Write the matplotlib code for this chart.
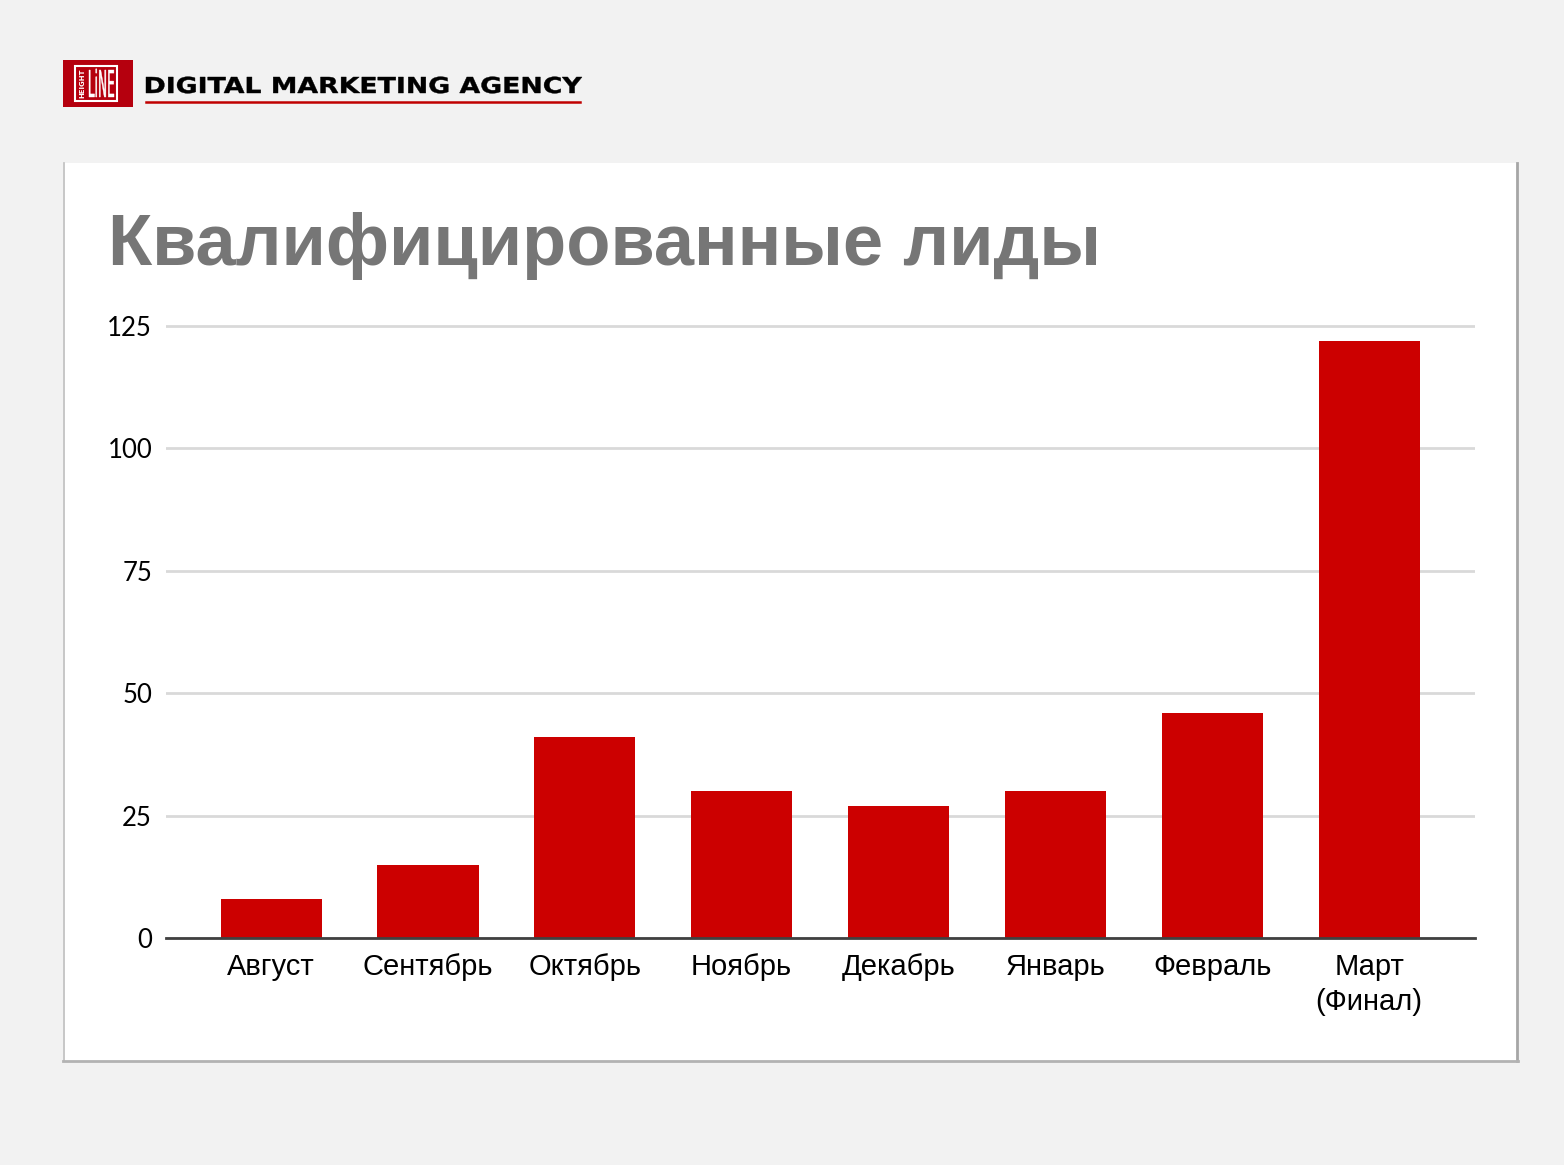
import matplotlib.pyplot as plt
from matplotlib.patches import Rectangle, PathPatch
from matplotlib.textpath import TextPath
from matplotlib.font_manager import FontProperties
from matplotlib.transforms import Affine2D
from matplotlib.lines import Line2D

# данные графика
months = ["Август", "Сентябрь", "Октябрь", "Ноябрь", "Декабрь",
          "Январь", "Февраль", "Март\n(Финал)"]
leads = [8, 15, 41, 30, 27, 30, 46, 122]
yticks = [0, 25, 50, 75, 100, 125]

W, H = 1564, 1165
fig = plt.figure(figsize=(W / 100, H / 100), dpi=100)
fig.patch.set_facecolor("#f2f2f2")


def text_box(s, x0, x1, base, cap, fp, color):
    # текст, растянутый в заданную ширину (в пикселях)
    tp = TextPath((0, 0), s, size=20, prop=fp)
    bb = tp.get_extents()
    capref = TextPath((0, 0), "H", size=20, prop=fp).get_extents().height
    tr = Affine2D().translate(-bb.x0, 0).scale((x1 - x0) / bb.width,
                                               cap / capref)
    tr = tr.translate(x0, H - base)
    p = PathPatch(tr.transform_path(tp), facecolor=color, edgecolor=color,
                  lw=0.3, transform=None, zorder=2)
    fig.patches.append(p)


# белая карточка под графиком
card = Rectangle((63 / W, 1 - 1061 / H), 1454 / W, 898 / H,
                 transform=fig.transFigure, facecolor="white",
                 edgecolor="none", zorder=-10)
fig.patches.append(card)
fig.lines.append(Line2D([63.5 / W, 63.5 / W], [1 - 163 / H, 1 - 1061 / H],
                        transform=fig.transFigure, color="#bdbdbd", lw=1.2))
fig.lines.append(Line2D([1517 / W, 1517 / W], [1 - 163 / H, 1 - 1061 / H],
                        transform=fig.transFigure, color="#a6a6a6", lw=2))
fig.lines.append(Line2D([63 / W, 1518 / W], [1 - 1060.5 / H, 1 - 1060.5 / H],
                        transform=fig.transFigure, color="#b3b3b3", lw=2))

# логотип
logo = Rectangle((63 / W, 1 - 107 / H), 70 / W, 47 / H,
                 transform=fig.transFigure, facecolor="#b5000e",
                 edgecolor="none", zorder=1)
fig.patches.append(logo)
inner = Rectangle((75 / W, 1 - 101 / H), 42 / W, 35 / H,
                  transform=fig.transFigure, facecolor="none",
                  edgecolor="white", lw=1.5, zorder=2)
fig.patches.append(inner)
fig.text(82 / W, 1 - 83.5 / H, "HEIGHT", color="white", fontsize=5,
         rotation=90, ha="center", va="center", family="DejaVu Sans",
         fontweight="bold")
text_box("LiNE", 89, 114, 97, 27, FontProperties(family="DejaVu Sans"),
         "white")

# подпись агентства
text_box("DIGITAL MARKETING AGENCY", 146, 582, 93, 16,
         FontProperties(family="DejaVu Sans", weight="bold"), "black")
fig.lines.append(Line2D([146 / W, 580 / W], [1 - 101.5 / H, 1 - 101.5 / H],
                        transform=fig.transFigure, color="#c00000", lw=1.8))

# заголовок
fig.text(108 / W, 1 - 265 / H, "Квалифицированные лиды", color="#767676",
         fontsize=52, fontweight="bold", family="Liberation Sans",
         ha="left", va="baseline")

# сам график
ymax = 125.5
ax_bottom = 1 - 938 / H
ax_h = ymax * (612 / 125) / H
ax = fig.add_axes([166 / W, ax_bottom, (1475 - 166) / W, ax_h])
ax.set_facecolor("none")

x = range(len(months))
ax.bar(x, leads, width=0.645, color="#cc0000", zorder=3)

ax.set_xlim(-0.67, 7.675)
ax.set_ylim(0, ymax)
ax.set_yticks(yticks)
ax.set_yticklabels([str(t) for t in yticks], family="Lato", fontsize=18.5)
ax.set_xticks(list(x))
ax.set_xticklabels(months, family="Liberation Sans", fontsize=21,
                   linespacing=1.3)
ax.tick_params(axis="both", length=0, colors="black")
ax.tick_params(axis="y", pad=10)
ax.tick_params(axis="x", pad=11)

ax.yaxis.grid(True, color="#d9d9d9", lw=2, zorder=0)
for s in ["top", "right", "left"]:
    ax.spines[s].set_visible(False)
ax.spines["bottom"].set_color("#404040")
ax.spines["bottom"].set_linewidth(2)
ax.spines["bottom"].set_zorder(4)

fig.savefig("out.png", dpi=100, facecolor=fig.get_facecolor())
